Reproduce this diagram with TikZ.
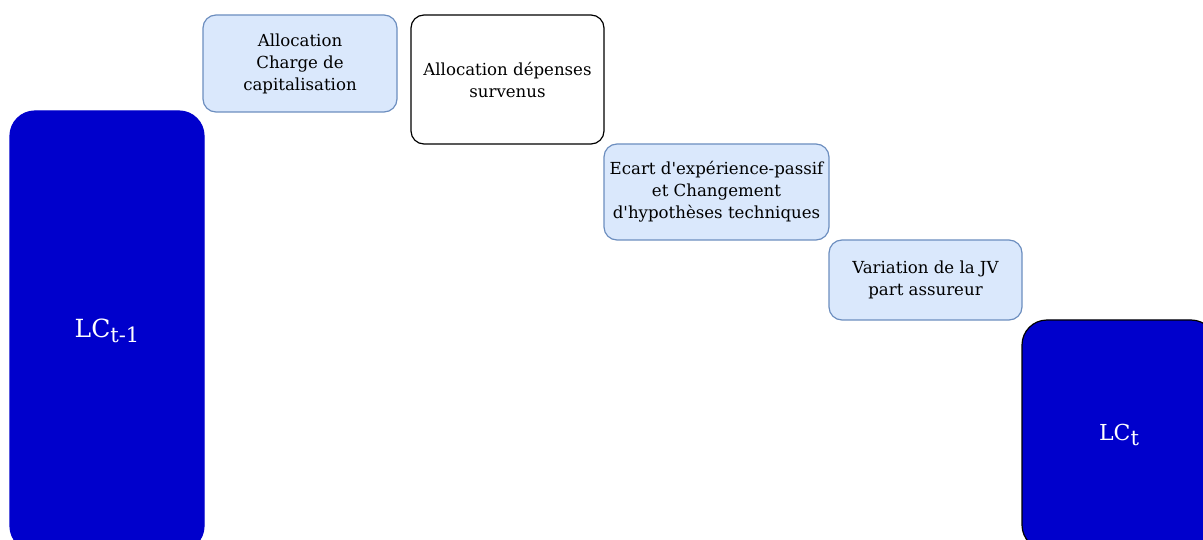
\documentclass[tikz,border=0pt]{standalone}
\usepackage{fontspec}
\setmainfont{DejaVu Serif}
\usetikzlibrary{positioning}
\definecolor{lcblue}{HTML}{0000CC}
\definecolor{cfill}{HTML}{DAE8FC}
\definecolor{cline}{HTML}{6C8EBF}
\tikzset{
  lcbox/.style={draw=lcblue, fill=lcblue, rounded corners=25pt, text=white, inner sep=0pt, outer sep=0pt, minimum width=194pt, line width=1.2pt},
  stepbox/.style={draw=cline, fill=cfill, rounded corners=13pt, align=center, inner sep=2pt, outer sep=0pt, line width=1.2pt, font=\fontsize{16.6}{22}\selectfont},
  blankbox/.style={stepbox, draw=black, fill=white},
}
\newcommand{\lcsub}[1]{\raisebox{-0.4ex}{\fontsize{21}{21}\selectfont #1}}

\begin{document}
\begin{tikzpicture}[x=1pt, y=1pt]
      \useasboundingbox (0,0) rectangle (1203,-540);
      \clip (0,0) rectangle (1203,-540);
      \node[lcbox, minimum height=440pt, anchor=north west, font=\fontsize{25}{28}\selectfont] (lcprev) at (10,-111) {LC\lcsub{t-1}};
      \node[stepbox, minimum width=194pt, minimum height=97pt, anchor=north west] (charge) at (203,-15) {Allocation\\Charge de\\capitalisation};
      \node[blankbox, right=14pt of charge.north east, anchor=north west, minimum width=193pt, minimum height=129pt] (depenses) {Allocation dépenses\\survenus};
      \node[stepbox, anchor=north west, minimum width=225pt, minimum height=96pt] (ecart) at (depenses.south east) {Ecart d\textquotesingle expérience-passif\\et Changement\\d\textquotesingle hypothèses techniques};
      \node[stepbox, anchor=north west, minimum width=193pt, minimum height=80pt] (jv) at (ecart.south east) {Variation de la JV\\part assureur};
      \node[lcbox, draw=black, anchor=north west, minimum height=230pt, font=\fontsize{22}{26}\selectfont] (lccur) at (jv.south east) {LC\lcsub{t}};
    \end{tikzpicture}
\end{document}
